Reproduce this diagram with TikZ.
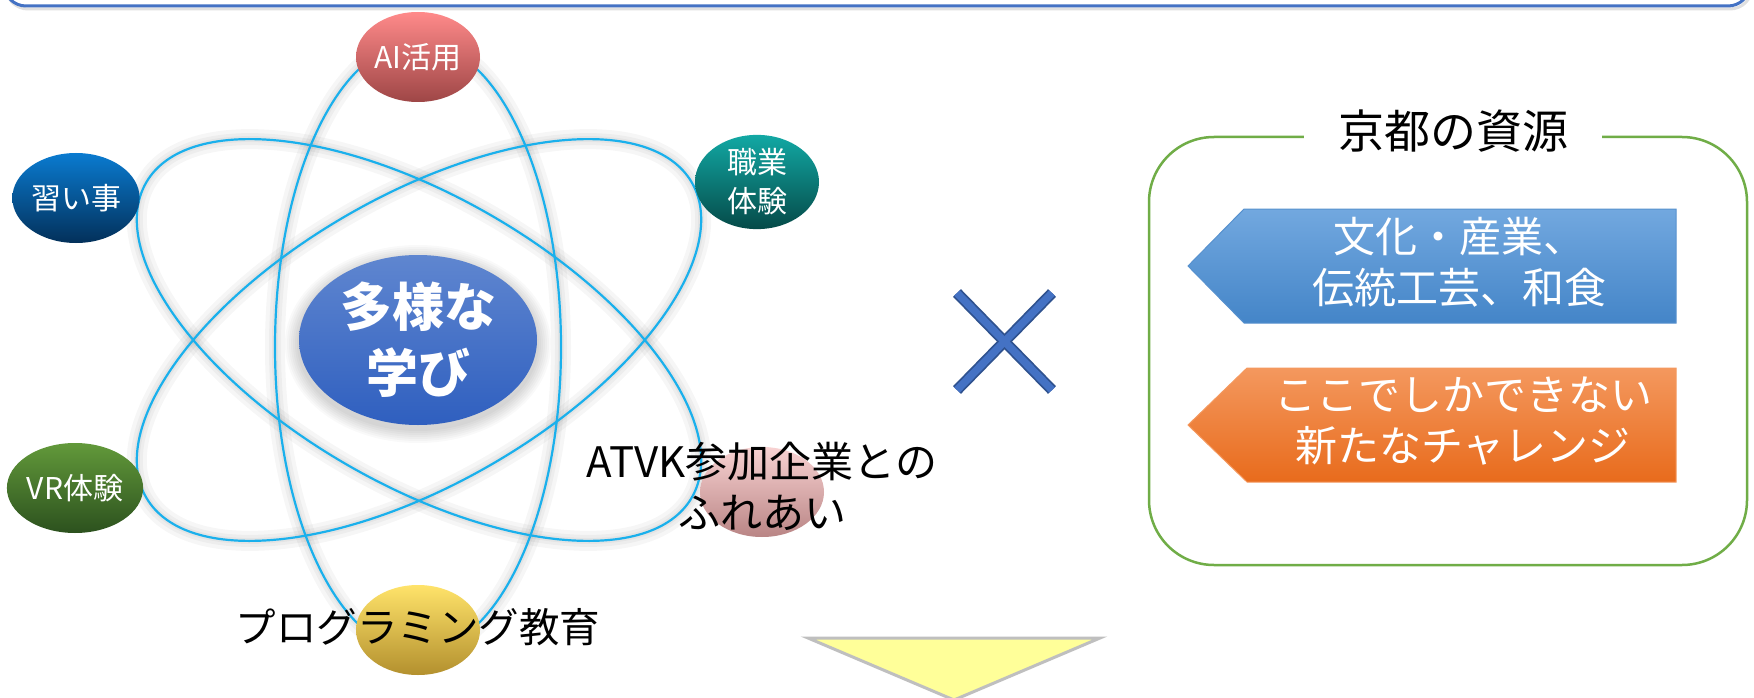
\documentclass[tikz,border=0pt]{standalone}
\usepackage{fontspec}
\setmainfont{Noto Sans CJK JP}
\usetikzlibrary{shapes.geometric}
\definecolor{frameblue}{HTML}{4472C4}
\definecolor{orbitblue}{HTML}{1AB0EC}
\definecolor{aiTop}{HTML}{FF8A8A}
\definecolor{aiBot}{HTML}{9E4646}
\definecolor{naTop}{HTML}{0A7BD0}
\definecolor{naBot}{HTML}{03305A}
\definecolor{shTop}{HTML}{12A8A4}
\definecolor{shBot}{HTML}{054A48}
\definecolor{vrTop}{HTML}{62993A}
\definecolor{vrBot}{HTML}{2C511E}
\definecolor{atTop}{HTML}{F8D2D2}
\definecolor{atBot}{HTML}{B98585}
\definecolor{prTop}{HTML}{FFE36A}
\definecolor{prBot}{HTML}{B3902E}
\definecolor{ceTop}{HTML}{5F86D0}
\definecolor{ceBot}{HTML}{2F5FBF}
\definecolor{kgreen}{HTML}{70AD47}
\definecolor{bluTop}{HTML}{72A8DF}
\definecolor{bluBot}{HTML}{4485C8}
\definecolor{oraTop}{HTML}{F4985E}
\definecolor{oraBot}{HTML}{E86B1C}
\definecolor{xdark}{HTML}{2F528F}
\definecolor{triyellow}{HTML}{FFFF99}
\definecolor{trigray}{HTML}{BFBFBF}
\tikzset{
  orbit/.style={draw=orbitblue, line width=2.2},
  glowline/.style={draw=black, opacity=0.035, line width=#1},
  ball/.style={ellipse, minimum width=124, minimum height=90, inner sep=0,
    text=white, align=center, font=\fontsize{30}{39}\selectfont},
  centerel/.style={ellipse, minimum width=238, minimum height=170, inner sep=0,
    top color=ceTop, bottom color=ceBot, text=white, align=center,
    font=\fontsize{52}{66}\selectfont\bfseries},
  blacktext/.style={text=black, align=center, inner sep=0, font=\fontsize{42}{51}\selectfont},
  arrowtext/.style={text=white, align=center, inner sep=0, font=\fontsize{42}{51}\selectfont},
}
\begin{document}
\begin{tikzpicture}[x=1pt, y=-1pt]
\useasboundingbox (0,0) rectangle (1754,698);
\fill[white] (0,0) rectangle (1754,698);

% top frame
\draw[black, opacity=0.12, line width=3, rounded corners=22] (6,-80) rectangle (1752,9);
\draw[frameblue, line width=3, rounded corners=22] (4,-80) rectangle (1750,6);

% orbits
\coordinate (c) at (419,340);
\coordinate (cv) at (418,347);
\foreach \w in {20,12,6} {
  \draw[glowline=\w] (cv) ellipse [x radius=143, y radius=305];
  \draw[glowline=\w, rotate around={60:(c)}] (c) ellipse [x radius=144, y radius=315];
  \draw[glowline=\w, rotate around={-60:(c)}] (c) ellipse [x radius=144, y radius=315];
}
\draw[orbit] (cv) ellipse [x radius=143, y radius=305];
\draw[orbit, rotate around={60:(c)}] (c) ellipse [x radius=144, y radius=315];
\draw[orbit, rotate around={-60:(c)}] (c) ellipse [x radius=144, y radius=315];

% centre glow
\foreach \i in {1,...,7} {
  \fill[black, opacity=0.025] (418,344) ellipse [x radius=119+2*\i, y radius=85+2*\i];
}
\node[centerel] (tayo) at (418,340) {多様な\\学び};

% balls
\node[ball, top color=aiTop, bottom color=aiBot] (ai) at (418,57) {AI活用};
\node[ball, top color=naTop, bottom color=naBot] (narai) at (76,198) {習い事};
\node[ball, top color=shTop, bottom color=shBot] (shoku) at (757,182) {職業\\体験};
\node[ball, top color=vrTop, bottom color=vrBot] (vr) at (75,488) {VR体験};
\node[ball, top color=atTop, bottom color=atBot] (atball) at (762,492) {};
\node[ball, top color=prTop, bottom color=prBot] (prball) at (418,630) {};
\node[blacktext] (atvk) at (762,486) {ATVK参加企業との\\ふれあい};
\node[blacktext, font=\fontsize{40.5}{45}\selectfont] (prog) at (418,627) {プログラミング教育};

% cross mark
\coordinate (xa) at (957,293);
\coordinate (xb) at (1052,390);
\coordinate (xc) at (957,390);
\coordinate (xd) at (1052,293);
\draw[xdark, line width=11] (xa) -- (xb);
\draw[xdark, line width=11] (xc) -- (xd);
\draw[frameblue, line width=7.5] (xa) -- (xb);
\draw[frameblue, line width=7.5] (xc) -- (xd);

% Kyoto box
\draw[kgreen, line width=2.5, rounded corners=65] (1149,137) rectangle (1747,565);
\node[fill=white, inner xsep=34, inner ysep=2, text=black, font=\fontsize{46}{50}\selectfont] (kyoto) at (1453,131) {京都の資源};

\shade[top color=bluTop, bottom color=bluBot] (1244,209) -- (1676,209) -- (1676,323) -- (1244,323) -- (1188,266) -- cycle;
\draw[bluBot!90!white, line width=1] (1244,209) -- (1676,209) -- (1676,323) -- (1244,323) -- (1188,266) -- cycle;
\node[arrowtext] (bunka) at (1459,262) {文化・産業、\\伝統工芸、和食};

\shade[top color=oraTop, bottom color=oraBot] (1247,368) -- (1676,368) -- (1676,482) -- (1247,482) -- (1188,425) -- cycle;
\draw[oraTop, line width=1] (1247,368) -- (1676,368) -- (1676,482) -- (1247,482) -- (1188,425) -- cycle;
\node[arrowtext] (koko) at (1463,421) {ここでしかできない\\新たなチャレンジ};

% bottom triangle
\draw[fill=triyellow, draw=trigray, line width=3, line join=miter] (808,638) -- (1100,638) -- (954,700) -- cycle;
\end{tikzpicture}
\end{document}
